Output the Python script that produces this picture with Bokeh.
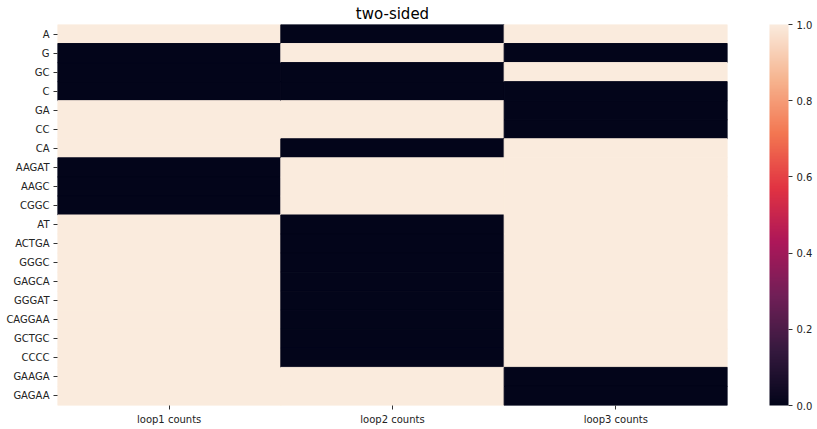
import numpy as np
from bokeh.plotting import figure
from bokeh.models import ColumnDataSource, LinearColorMapper, ColorBar, FactorRange, FixedTicker, NumeralTickFormatter
from bokeh.embed import file_html
from bokeh.resources import INLINE

rows = ["A", "G", "GC", "C", "GA", "CC", "CA", "AAGAT", "AAGC", "CGGC", "AT", "ACTGA",
        "GGGC", "GAGCA", "GGGAT", "CAGGAA", "GCTGC", "CCCC", "GAAGA", "GAGAA"]
cols = ["loop1 counts", "loop2 counts", "loop3 counts"]
loop1 = [1, 0, 0, 0, 1, 1, 1, 0, 0, 0, 1, 1, 1, 1, 1, 1, 1, 1, 1, 1]
loop2 = [0, 1, 0, 0, 1, 1, 0, 1, 1, 1, 0, 0, 0, 0, 0, 0, 0, 0, 1, 1]
loop3 = [1, 0, 1, 0, 0, 0, 1, 1, 1, 1, 1, 1, 1, 1, 1, 1, 1, 1, 0, 0]
ticks_cb = [0.0, 0.2, 0.4, 0.6, 0.8, 1.0]

# rocket colormap approximation
stops = [0.0, 1/7, 2/7, 3/7, 4/7, 5/7, 6/7, 1.0]
hexes = ["#03051a", "#35193e", "#701f57", "#ad1759", "#e13342", "#f37651", "#f6b48f", "#faebdd"]
rgb = np.array([[int(h[i:i+2], 16) for i in (1, 3, 5)] for h in hexes], dtype=float)
t = np.linspace(0, 1, 256)
pal = []
for v in t:
    c = [np.interp(v, stops, rgb[:, k]) for k in range(3)]
    pal.append("#%02x%02x%02x" % tuple(int(round(x)) for x in c))

xs, ys, vals = [], [], []
for cname, series in zip(cols, [loop1, loop2, loop3]):
    for r, v in zip(rows, series):
        xs.append(cname)
        ys.append(r)
        vals.append(v)
src = ColumnDataSource(dict(x=xs, y=ys, v=vals))

mapper = LinearColorMapper(palette=pal, low=0, high=1)

p = figure(x_range=FactorRange(*cols), y_range=FactorRange(*reversed(rows)),
           frame_width=670, frame_height=381, output_backend="svg", toolbar_location=None,
           min_border_left=57, min_border_top=0, min_border_bottom=20, min_border_right=90)
p.rect(x="x", y="y", width=1, height=1, source=src,
       fill_color={"field": "v", "transform": mapper},
       line_color={"field": "v", "transform": mapper}, line_width=1)

p.title.text = "two-sided"
p.title.align = "center"
p.title.text_font = "DejaVu Sans"
p.title.text_font_size = "15px"
p.title.text_font_style = "normal"
p.title.text_color = "#000000"
p.title.standoff = 4

for ax in (p.xaxis[0], p.yaxis[0]):
    ax.axis_line_color = None
    ax.major_tick_in = 0
    ax.major_tick_out = 4
    ax.major_tick_line_color = "#333333"
    ax.major_label_text_font = "DejaVu Sans"
    ax.major_label_text_font_size = "10px"
    ax.major_label_text_color = "#222222"
    ax.major_label_standoff = 4
p.grid.visible = False
p.outline_line_color = None
p.background_fill_color = "white"

cb = ColorBar(color_mapper=mapper, width=19, height=381, padding=0, margin=0,
              location=(712, 0),
              ticker=FixedTicker(ticks=ticks_cb),
              formatter=NumeralTickFormatter(format="0.0"),
              major_tick_in=0, major_tick_out=4, major_tick_line_color="#333333",
              major_label_text_font="DejaVu Sans", major_label_text_font_size="10px",
              major_label_text_color="#222222", bar_line_color=None,
              minor_tick_line_color=None, border_line_color=None,
              background_fill_color=None, label_standoff=4)
p.add_layout(cb, "center")

open("out.html", "w").write(file_html(p, INLINE))
